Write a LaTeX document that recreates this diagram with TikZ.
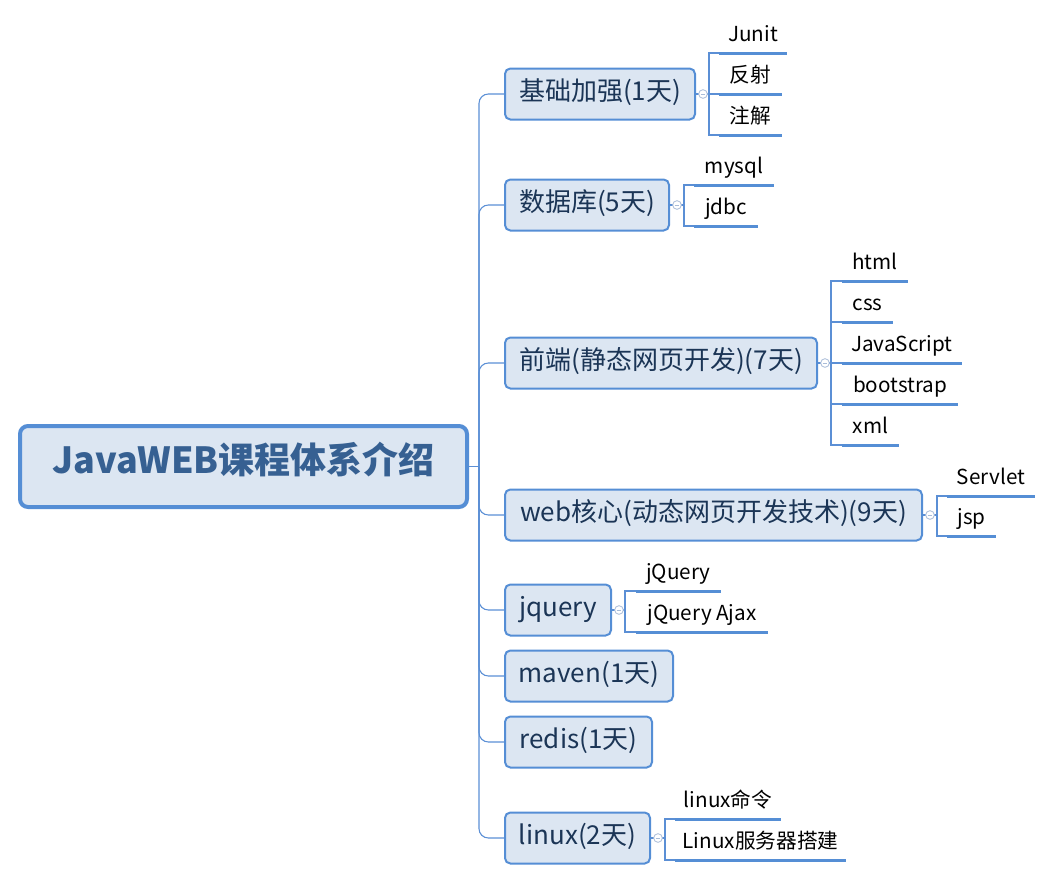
\documentclass[tikz,border=0pt]{standalone}
\usepackage{fontspec}
\setmainfont{Noto Sans CJK SC}
\definecolor{boxfill}{HTML}{DCE6F2}
\definecolor{boxline}{HTML}{558ED5}
\definecolor{connline}{HTML}{5B8FD5}
\definecolor{topictext}{HTML}{1B3556}
\definecolor{roottext}{HTML}{366092}
\definecolor{togline}{HTML}{A9BCD8}
\begin{document}
\begin{tikzpicture}[x=0.75pt,y=-0.75pt,
  rootbox/.style={draw=boxline, fill=boxfill, line width=3pt, rounded corners=6pt,
    minimum width=447*0.75pt, minimum height=81*0.75pt, inner sep=0pt,
    text height=1.0em, text depth=0em,
    text=roottext, font=\fontsize{27}{32}\selectfont\bfseries},
  topic/.style={draw=boxline, fill=boxfill, line width=1.5pt, rounded corners=4pt,
    minimum height=51*0.75pt, inner sep=0pt, anchor=west,
    text height=1.02em, text depth=0em,
    text=topictext, font=\fontsize{19.5}{23}\selectfont},
  leaf/.style={anchor=south west, inner xsep=1pt, inner ysep=6pt, outer sep=0pt,
    text height=12pt, text depth=3pt, text=black, font=\fontsize{15.5}{18}\selectfont},
  uline/.style={draw=boxline, line width=2.25pt},
  conn/.style={draw=connline, line width=0.8pt},
  trunk/.style={conn, rounded corners=7pt},
  tog/.style={circle, draw=togline, fill=white, line width=0.6pt, minimum size=6.5pt, inner sep=0pt,
    path picture={\draw[togline, line width=0.5pt]
      ([xshift=-1.7pt]path picture bounding box.center) -- ([xshift=1.7pt]path picture bounding box.center);}}
]
\useasboundingbox (0,0) rectangle (1053,882);

% root
\node[rootbox] (root) at (243.5,466.5) {JavaWEB课程体系介绍};

% topics
\node[topic, minimum width=190*0.75pt] (n1) at (504,94) {基础加强(1天)};
\node[topic, minimum width=164*0.75pt] (n2) at (504,205) {数据库(5天)};
\node[topic, minimum width=312*0.75pt] (n3) at (504,363) {前端(静态网页开发)(7天)};
\node[topic, minimum width=417*0.75pt] (n4) at (504,515) {web核心(动态网页开发技术)(9天)};
\node[topic, minimum width=106*0.75pt] (n5) at (504,610) {jquery};
\node[topic, minimum width=168*0.75pt] (n6) at (504,676) {maven(1天)};
\node[topic, minimum width=147*0.75pt] (n7) at (504,742) {redis(1天)};
\node[topic, minimum width=145*0.75pt] (n8) at (504,838) {linux(2天)};

% leaves
\node[leaf, minimum width=68*0.75pt] (l11) at (719,53) {Junit};
\node[leaf, minimum width=63*0.75pt] (l12) at (719,94) {反射};
\node[leaf, minimum width=63*0.75pt] (l13) at (719,135) {注解};

\node[leaf, minimum width=80*0.75pt] (l21) at (694,185) {mysql};
\node[leaf, minimum width=64*0.75pt] (l22) at (694,226) {jdbc};

\node[leaf, minimum width=66*0.75pt] (l31) at (842,281) {html};
\node[leaf, minimum width=51*0.75pt] (l32) at (842,322) {css};
\node[leaf, minimum width=120*0.75pt] (l33) at (842,363) {JavaScript};
\node[leaf, minimum width=116*0.75pt] (l34) at (842,404) {bootstrap};
\node[leaf, minimum width=57*0.75pt] (l35) at (842,445) {xml};

\node[leaf, minimum width=88*0.75pt] (l41) at (947,496) {Servlet};
\node[leaf, minimum width=49*0.75pt] (l42) at (947,536) {jsp};

\node[leaf, minimum width=85*0.75pt] (l51) at (636,591) {jQuery};
\node[leaf, minimum width=132*0.75pt] (l52) at (636,632) {jQuery Ajax};

\node[leaf, minimum width=106*0.75pt] (l81) at (675,819) {linux命令};
\node[leaf, minimum width=171*0.75pt] (l82) at (675,860) {Linux服务器搭建};

% trunk
\coordinate (tr) at (479,466.5);
\draw[conn] (root.east) -- (tr);
\foreach \n in {n1,n2,n3,n4,n5,n6,n7,n8}
  \draw[trunk] (tr) |- (\n.west);

% bars
\coordinate (b1) at (709,94);
\coordinate (b2) at (684,205);
\coordinate (b3) at (831,363);
\coordinate (b4) at (937,515);
\coordinate (b5) at (625,610);
\coordinate (b8) at (665,838);

\draw[conn] (n1.east) -- (b1);
\draw[conn] (n2.east) -- (b2);
\draw[conn] (n3.east) -- (b3);
\draw[conn] (n4.east) -- (b4);
\draw[conn] (n5.east) -- (b5);
\draw[conn] (n8.east) -- (b8);

\foreach \l in {l11,l12,l13} \draw[conn] (b1) |- (\l.south west);
\foreach \l in {l21,l22} \draw[conn] (b2) |- (\l.south west);
\foreach \l in {l31,l32,l33,l34,l35} \draw[conn] (b3) |- (\l.south west);
\foreach \l in {l41,l42} \draw[conn] (b4) |- (\l.south west);
\foreach \l in {l51,l52} \draw[conn] (b5) |- (\l.south west);
\foreach \l in {l81,l82} \draw[conn] (b8) |- (\l.south west);

% underlines
\foreach \l in {l11,l12,l13,l21,l22,l31,l32,l33,l34,l35,l41,l42,l51,l52,l81,l82}
  \draw[uline] (\l.south west) -- (\l.south east);

% toggles
\foreach \n in {n1,n2,n3,n4,n5,n8}
  \node[tog] (t\n) at ([xshift=7*0.75pt]\n.east) {};
\end{tikzpicture}
\end{document}
